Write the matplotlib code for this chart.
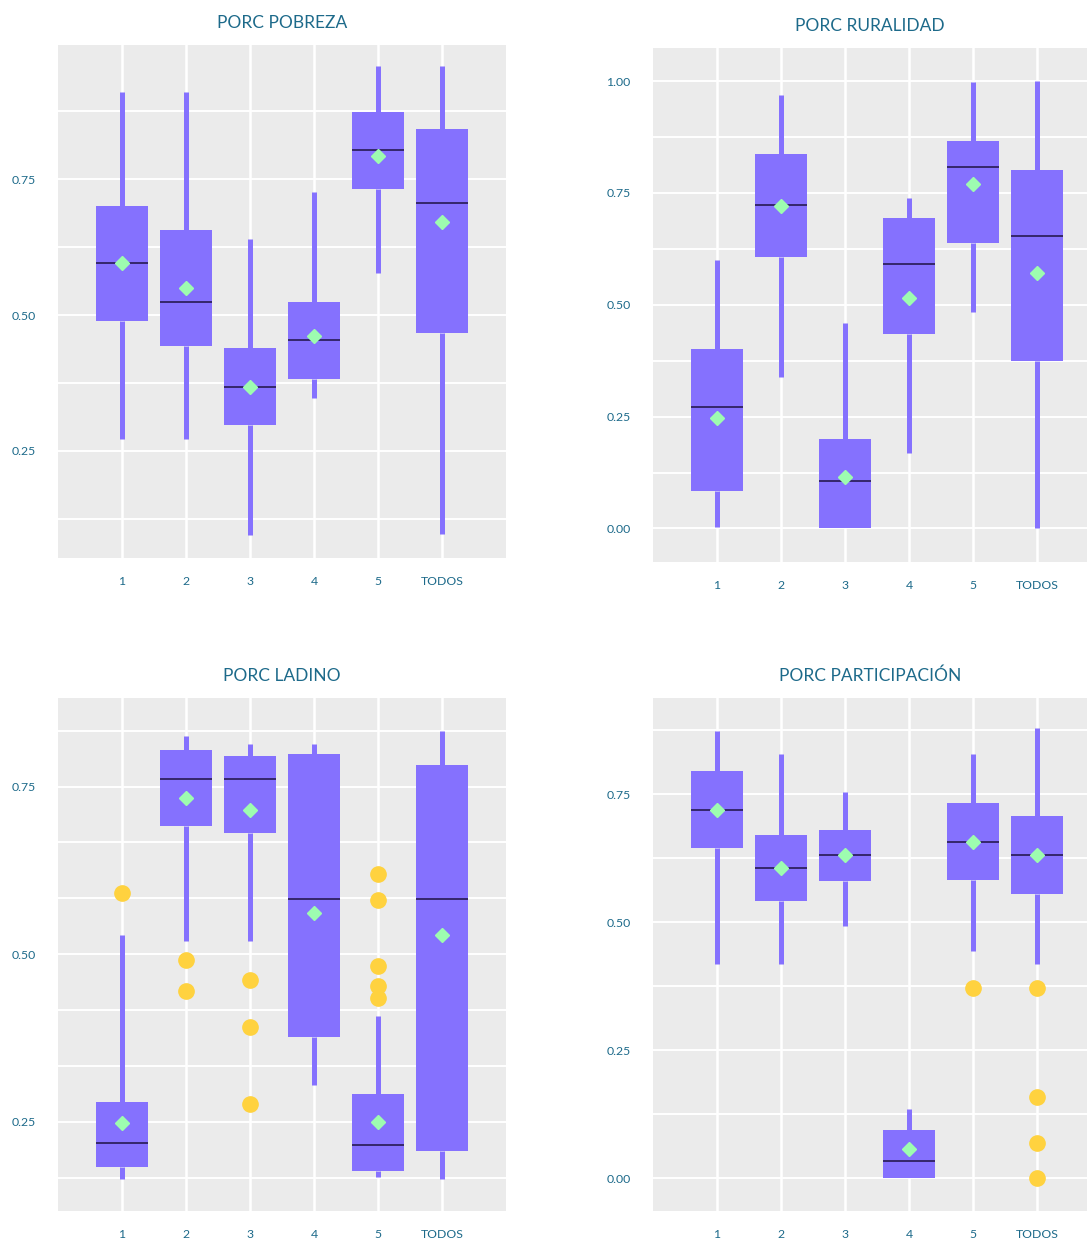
import numpy as np
import matplotlib
matplotlib.use("Agg")
import matplotlib.pyplot as plt

plt.rcParams['font.family'] = ['Lato', 'DejaVu Sans']

grupos = ["1", "2", "3", "4", "5", "TODOS"]

# PORC POBREZA
pobreza_lo = [0.272, 0.272, 0.095, 0.347, 0.578, 0.097]
pobreza_q1 = [0.489, 0.443, 0.297, 0.383, 0.732, 0.467]
pobreza_med = [0.595, 0.525, 0.367, 0.455, 0.804, 0.707]
pobreza_q3 = [0.701, 0.656, 0.439, 0.524, 0.873, 0.843]
pobreza_hi = [0.911, 0.911, 0.640, 0.727, 0.958, 0.958]
pobreza_mean = [0.596, 0.549, 0.367, 0.462, 0.792, 0.672]
pobreza_out = [[], [], [], [], [], []]

# PORC RURALIDAD
ruralidad_lo = [0.004, 0.339, 0.0, 0.168, 0.484, 0.0]
ruralidad_q1 = [0.084, 0.607, 0.0, 0.435, 0.637, 0.374]
ruralidad_med = [0.272, 0.722, 0.106, 0.592, 0.808, 0.654]
ruralidad_q3 = [0.402, 0.838, 0.200, 0.694, 0.866, 0.802]
ruralidad_hi = [0.599, 0.968, 0.460, 0.738, 0.997, 1.0]
ruralidad_mean = [0.247, 0.720, 0.114, 0.516, 0.771, 0.571]
ruralidad_out = [[], [], [], [], [], []]

# PORC LADINO
ladino_lo = [0.165, 0.519, 0.519, 0.305, 0.168, 0.165]
ladino_q1 = [0.183, 0.691, 0.681, 0.376, 0.176, 0.207]
ladino_med = [0.218, 0.761, 0.761, 0.583, 0.215, 0.583]
ladino_q3 = [0.280, 0.805, 0.796, 0.798, 0.291, 0.782]
ladino_hi = [0.528, 0.825, 0.814, 0.814, 0.408, 0.833]
ladino_mean = [0.248, 0.733, 0.715, 0.562, 0.249, 0.529]
ladino_out = [[0.591], [0.491, 0.445], [0.461, 0.391, 0.276], [],
              [0.619, 0.581, 0.482, 0.453, 0.435], []]

# PORC PARTICIPACIÓN
particip_lo = [0.418, 0.418, 0.493, 0.0, 0.443, 0.418]
particip_q1 = [0.645, 0.542, 0.580, 0.0, 0.582, 0.556]
particip_med = [0.719, 0.606, 0.631, 0.033, 0.656, 0.631]
particip_q3 = [0.795, 0.670, 0.680, 0.094, 0.732, 0.707]
particip_hi = [0.873, 0.829, 0.754, 0.135, 0.829, 0.879]
particip_mean = [0.719, 0.606, 0.631, 0.057, 0.656, 0.631]
particip_out = [[], [], [], [], [0.372], [0.372, 0.158, 0.069, 0.0]]

PURPLE = "#8571fe"
MEDIAN = "#2e2160"
MEAN = "#9dfcb0"
OUTLIER = "#ffd23f"
TEXT = "#1d6a8a"
BG = "#ebebeb"

W, H = 1087, 1239
fig = plt.figure(figsize=(W / 100, H / 100), dpi=100)


def panel(box_px, title, lo, q1, med, q3, hi, mean, out, ylim, grid_step, labels):
    left, top, right, bottom = box_px
    ax = fig.add_axes([left / W, 1 - bottom / H, (right - left) / W, (bottom - top) / H])
    stats = []
    for i in range(len(grupos)):
        stats.append(dict(whislo=lo[i], q1=q1[i], med=med[i], q3=q3[i],
                          whishi=hi[i], mean=mean[i], fliers=out[i]))
    ax.bxp(stats, positions=range(1, 7), widths=0.82, patch_artist=True,
           showcaps=False, showmeans=True,
           boxprops=dict(facecolor=PURPLE, linewidth=0),
           whiskerprops=dict(color=PURPLE, linewidth=3.6, solid_capstyle="butt"),
           medianprops=dict(color=MEDIAN, linewidth=1.3),
           meanprops=dict(marker="D", markerfacecolor=MEAN, markeredgecolor=MEAN,
                          markersize=7.5),
           flierprops=dict(marker="o", markerfacecolor=OUTLIER, markeredgecolor=OUTLIER,
                           markersize=11))
    ax.set_facecolor(BG)
    ax.set_xlim(0, (right - left) / 64.0)
    ax.set_ylim(*ylim)
    ax.set_xticks(range(1, 7), labels=grupos)
    ax.set_yticks(labels, labels=["%.2f" % v for v in labels])
    g0 = np.ceil(ylim[0] / grid_step - 1e-6) * grid_step
    ax.set_yticks(np.arange(g0, ylim[1], grid_step), minor=True)
    ax.grid(True, which="both", axis="y", color="white", linewidth=1.4)
    ax.grid(True, which="major", axis="x", color="white", linewidth=1.8)
    ax.set_axisbelow(True)
    ax.tick_params(which="both", length=0, colors=TEXT, labelsize=8.8)
    ax.tick_params(axis="y", pad=16)
    ax.tick_params(axis="x", pad=13)
    for s in ax.spines.values():
        s.set_visible(False)
    ax.set_title(title, color=TEXT, fontsize=12.5, pad=12.5)
    return ax


panel((58, 45, 506, 558), "PORC POBREZA", pobreza_lo, pobreza_q1, pobreza_med,
      pobreza_q3, pobreza_hi, pobreza_mean, pobreza_out,
      (0.053, 0.997), 0.125, [0.25, 0.50, 0.75])
panel((653, 48, 1087, 562), "PORC RURALIDAD", ruralidad_lo, ruralidad_q1, ruralidad_med,
      ruralidad_q3, ruralidad_hi, ruralidad_mean, ruralidad_out,
      (-0.075, 1.074), 0.125, [0.0, 0.25, 0.50, 0.75, 1.0])
panel((58, 698, 506, 1211), "PORC LADINO", ladino_lo, ladino_q1, ladino_med,
      ladino_q3, ladino_hi, ladino_mean, ladino_out,
      (0.117, 0.882), 0.25 / 3, [0.25, 0.50, 0.75])
panel((653, 698, 1087, 1211), "PORC PARTICIPACIÓN", particip_lo, particip_q1, particip_med,
      particip_q3, particip_hi, particip_mean, particip_out,
      (-0.064, 0.938), 0.125, [0.0, 0.25, 0.50, 0.75])

fig.savefig("out.png", dpi=100, facecolor="white")
